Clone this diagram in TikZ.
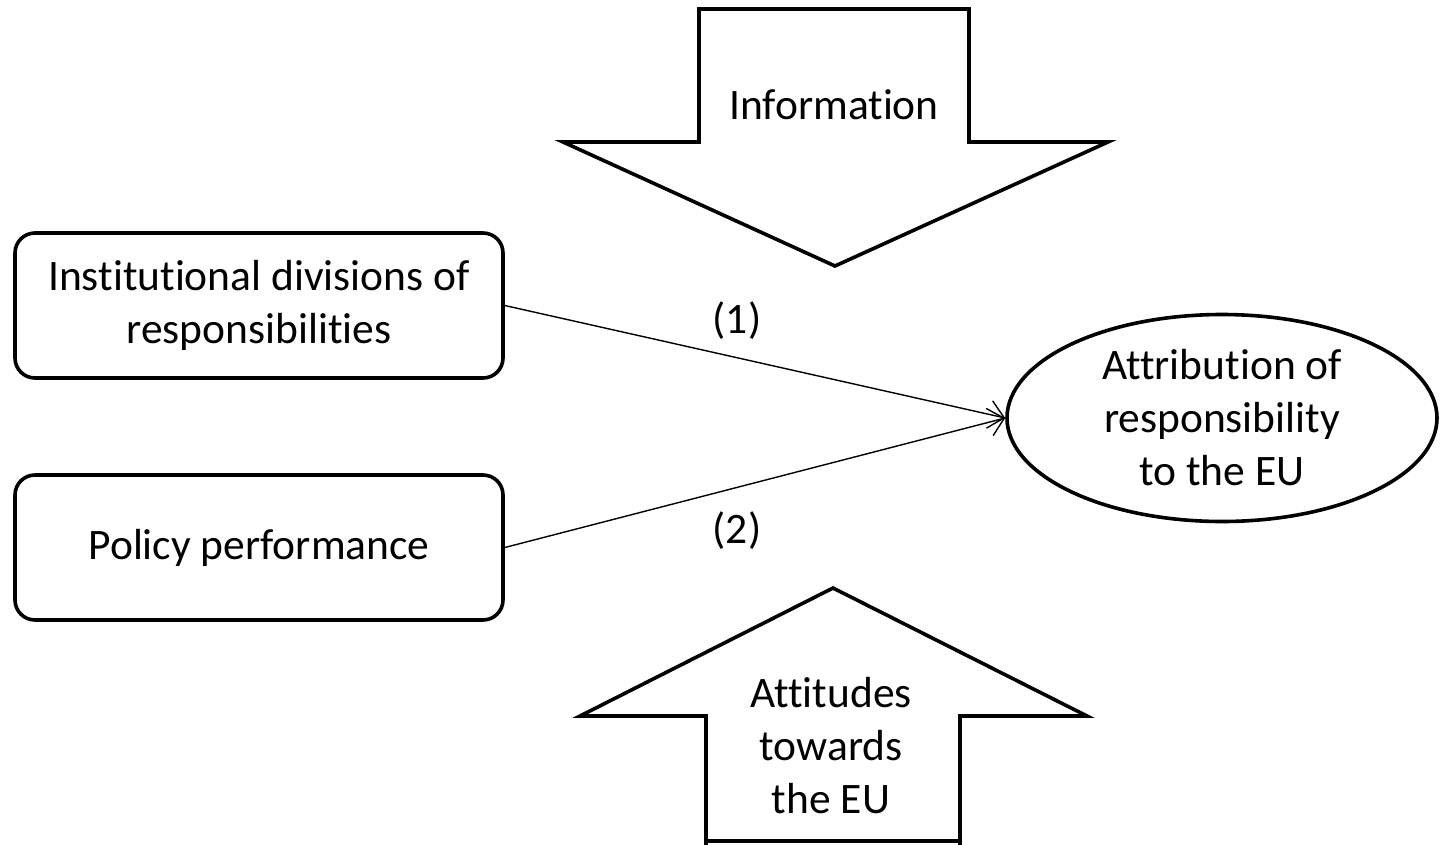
\documentclass[tikz,border=0pt]{standalone}
\usepackage{fontspec}
\setmainfont[Ligatures=NoCommon]{Carlito}
\usetikzlibrary{arrows.meta,shapes.geometric}
\begin{document}
\begin{tikzpicture}[x=1pt,y=-1pt,
  txt/.style={font=\fontsize{43.5}{53}\selectfont, align=center, inner sep=0pt},
  boxnode/.style={txt, draw, line width=3.6pt, rounded corners=20pt, minimum width=488pt, minimum height=145pt},
  ellnode/.style={txt, draw, ellipse, line width=3.6pt, minimum width=430pt, minimum height=207pt},
  bigarrow/.style={draw, line width=3.6pt, line join=miter},
  conn/.style={line width=1.4pt, -{Straight Barb[length=15pt,width=28pt,line width=1.4pt]}},
  lbl/.style={font=\fontsize{43.5}{53}\selectfont, inner sep=0pt}
]
\useasboundingbox (0,0) rectangle (1440,844);
\fill[white] (0,0) rectangle (1440,844);

% top arrow (Information)
\draw[bigarrow] (699,9) -- (969,9) -- (969,142) -- (1108,142) -- (835,266) -- (563,142) -- (699,142) -- cycle;
\node[txt] (info) at (834,105) {Information};

% bottom arrow (Attitudes)
\draw[bigarrow] (706,845) -- (706,716) -- (580,716) -- (833,588) -- (1087,716) -- (960,716) -- (960,845);
\draw[bigarrow] (704,841) -- (962,841);
\node[txt] (att) at (831,746) {Attitudes\\towards\\the EU};

% boxes
\node[boxnode] (inst) at (259,305.5) {Institutional divisions of\\responsibilities};
\node[boxnode] (pol) at (259,547.5) {Policy performance};

% ellipse
\node[ellnode] (attr) at (1222,418) {Attribution of\\responsibility\\to the EU};

% connectors
\draw[conn] (inst.east) -- (attr.west);
\draw[conn] (pol.east) -- (attr.west);

\node[lbl] (l1) at (737,321) {(1)};
\node[lbl] (l2) at (737,531) {(2)};
\end{tikzpicture}
\end{document}
